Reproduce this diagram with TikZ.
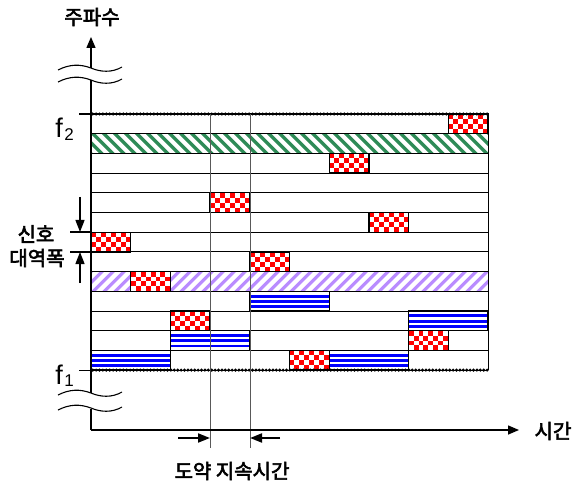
\documentclass[tikz,border=0pt]{standalone}
\usepackage{fontspec}
\setmainfont{Liberation Sans}
\newfontfamily\kr{Noto Sans CJK KR}[AutoFakeBold=3]
\usetikzlibrary{arrows.meta}

\definecolor{chkred}{RGB}{255,0,0}
\definecolor{hatchgreen}{RGB}{46,139,87}
\definecolor{hatchpurple}{RGB}{185,140,255}
\definecolor{stripeblue}{RGB}{0,0,255}

% grid geometry: origin of the band area, cell width, row height
\def\xo{91}
\def\yo{114}
\def\cw{39.7}
\def\rh{19.7}

\tikzset{
  blk/.style={black, line width=1.3pt},
  gridline/.style={black, line width=0.8pt},
  axisline/.style={black, line width=1.5pt},
  divider/.style={black!65, line width=0.9pt},
  tick/.style={black, line width=1.2pt},
  bigtip/.style={-{Triangle[length=11pt,width=9pt]}},
  smalltip/.style={-{Triangle[length=12pt,width=9pt]}, line width=1.8pt},
  krlabel/.style={font=\kr\bfseries\fontsize{20}{20}\selectfont, inner sep=0pt},
  flabel/.style={font=\fontsize{27}{27}\selectfont, inner sep=0pt},
  fsub/.style={font=\fontsize{17}{17}\selectfont, inner sep=0pt},
  wavestyle/.style={black, line width=1.1pt},
}

% red/white checkerboard filling one cell
\newcommand\chkcell[2]{%
  \pgfmathsetmacro\cx{\xo+#1*\cw}%
  \pgfmathsetmacro\cy{\yo+#2*\rh}%
  \fill[white] (\cx,\cy) rectangle ++(\cw,\rh);
  \foreach \i in {0,...,3}{%
    \foreach \j in {0,2,4,6}{%
      \pgfmathtruncatemacro\jj{\j+mod(\i,2)}%
      \fill[chkred] (\cx+\jj*\cw/8,\cy+\i*\rh/4) rectangle ++(\cw/8,\rh/4);
    }}%
  \draw[blk] (\cx,\cy) rectangle ++(\cw,\rh);
}

% horizontal blue stripes over #3 cells starting at column #1, row #2
\newcommand\bluecells[3]{%
  \pgfmathsetmacro\cx{\xo+#1*\cw}%
  \pgfmathsetmacro\cy{\yo+#2*\rh}%
  \pgfmathsetmacro\bw{#3*\cw}%
  \fill[white] (\cx,\cy) rectangle ++(\bw,\rh);
  \foreach \s in {4.8,10.1,15.3}{%
    \fill[stripeblue] (\cx,\cy+\s-1.45) rectangle ++(\bw,2.9);
  }%
  \draw[blk] (\cx,\cy) rectangle ++(\bw,\rh);
}

% full-width diagonal hatch in row #1, colour #2, direction #3 (+1 or -1)
\newcommand\hatchrow[3]{%
  \pgfmathsetmacro\cy{\yo+#1*\rh}%
  \begin{scope}
    \clip (\xo,\cy) rectangle ++(10*\cw,\rh);
    \foreach \k in {-33,-22,...,420}{%
      \draw[#2, line width=3.3pt] (\xo+\k,\cy+10-#3*12) -- ++(24,#3*24);
    }
  \end{scope}
}

% beaded band-limit line at height #1
\newcommand\beads[1]{%
  \pgfmathsetmacro\by{#1}%
  \draw[black, line width=1.2pt] (\xo,\by) -- (\xo+10*\cw,\by);
  \foreach \n in {0,...,116}{%
    \fill[black] (\xo+1.7+\n*3.4,\by) circle[radius=1.7pt];
  }
}

% broken-axis wave mark centred on the vertical axis
\newcommand\wave[1]{%
  \draw[wavestyle] (58,#1+2) .. controls (70,#1-4) and (80,#1-4) .. (91,#1)
    .. controls (100,#1+4) and (112,#1+5) .. (122,#1-1);
}

\begin{document}
\begin{tikzpicture}[x=1pt,y=-1pt]
\useasboundingbox (0,0) rectangle (573,489);

% ---- band contents ----
\hatchrow{1}{hatchgreen}{1}
\hatchrow{8}{hatchpurple}{-1}

\bluecells{4}{9}{2}
\bluecells{8}{10}{2}
\bluecells{2}{11}{2}
\bluecells{0}{12}{2}
\bluecells{6}{12}{2}

\foreach \c/\r in {9/0,6/2,3/4,7/5,0/6,4/7,1/8,2/10,8/11,5/12}{%
  \chkcell{\c}{\r}
}

% ---- row separators and right edge ----
\foreach \r in {1,...,12}{%
  \draw[gridline] (\xo,\yo+\r*\rh) -- (\xo+10*\cw,\yo+\r*\rh);
}
\draw[gridline] (\xo+10*\cw,\yo) -- (\xo+10*\cw,\yo+13*\rh);

% redraw block outlines over the separators
\foreach \c/\r in {9/0,6/2,3/4,7/5,0/6,4/7,1/8,2/10,8/11,5/12}{%
  \draw[blk] (\xo+\c*\cw,\yo+\r*\rh) rectangle ++(\cw,\rh);
}
\foreach \c/\r/\n in {4/9/2,8/10/2,2/11/2,0/12/2,6/12/2}{%
  \draw[blk] (\xo+\c*\cw,\yo+\r*\rh) rectangle ++(\n*\cw,\rh);
}

% ---- band limits f2 (top) and f1 (bottom) ----
\coordinate (f2l) at (\xo,\yo);
\coordinate (f1l) at (\xo,\yo+13*\rh);
\beads{\yo}
\beads{\yo+13*\rh}
\coordinate (f2t) at (79,\yo);
\coordinate (f1t) at (79,\yo+13*\rh);
\draw[tick] (f2t) -- (f2l);
\draw[tick] (f1t) -- (f1l);

\node[flabel] (f2) at (59,127.5) {f};
\node[fsub]  (f2s) at (69,134.5) {2};
\node[flabel] (f1) at (59,375) {f};
\node[fsub]  (f1s) at (69,381) {1};

% ---- hop-duration dividers ----
\coordinate (d1t) at (210,\yo);
\coordinate (d1b) at (210,448);
\coordinate (d2t) at (250,\yo);
\coordinate (d2b) at (250,448);
\draw[divider] (d1t) -- (d1b);
\draw[divider] (d2t) -- (d2b);

\coordinate (ha1) at (178,438);
\coordinate (ha1e) at (210,438);
\coordinate (ha2) at (280,438);
\coordinate (ha2e) at (250,438);
\draw[smalltip] (ha1) -- (ha1e);
\draw[smalltip] (ha2) -- (ha2e);

% ---- signal bandwidth marker ----
\coordinate (bwt1) at (70,232);
\coordinate (bwt1e) at (91,232);
\coordinate (bwt2) at (70,252);
\coordinate (bwt2e) at (91,252);
\draw[tick] (bwt1) -- (bwt1e);
\draw[tick] (bwt2) -- (bwt2e);
\coordinate (bwa1) at (80,197);
\coordinate (bwa1e) at (80,232);
\coordinate (bwa2) at (80,283);
\coordinate (bwa2e) at (80,252);
\draw[smalltip, line width=1.3pt] (bwa1) -- (bwa1e);
\draw[smalltip, line width=1.3pt] (bwa2) -- (bwa2e);

% ---- axes with break marks ----
\coordinate (orig) at (91,430);
\coordinate (ytop) at (91,37);
\coordinate (xend) at (519,430);
\draw[axisline] (orig) -- (91,409);
\draw[axisline] (91,393) -- (91,80);
\draw[axisline, bigtip] (91,68) -- (ytop);
\draw[axisline, bigtip] (orig) -- (xend);
\wave{68}
\wave{80}
\wave{393}
\wave{408}

% ---- labels ----
\node[krlabel] (freq) at (92,17) {주파수};
\node[krlabel] (time) at (553,431) {시간};
\node[krlabel] (hop)  at (232,471) {도약 지속시간};
\node[krlabel] (bw1)  at (36,234) {신호};
\node[krlabel] (bw2)  at (37,258) {대역폭};
\end{tikzpicture}
\end{document}
